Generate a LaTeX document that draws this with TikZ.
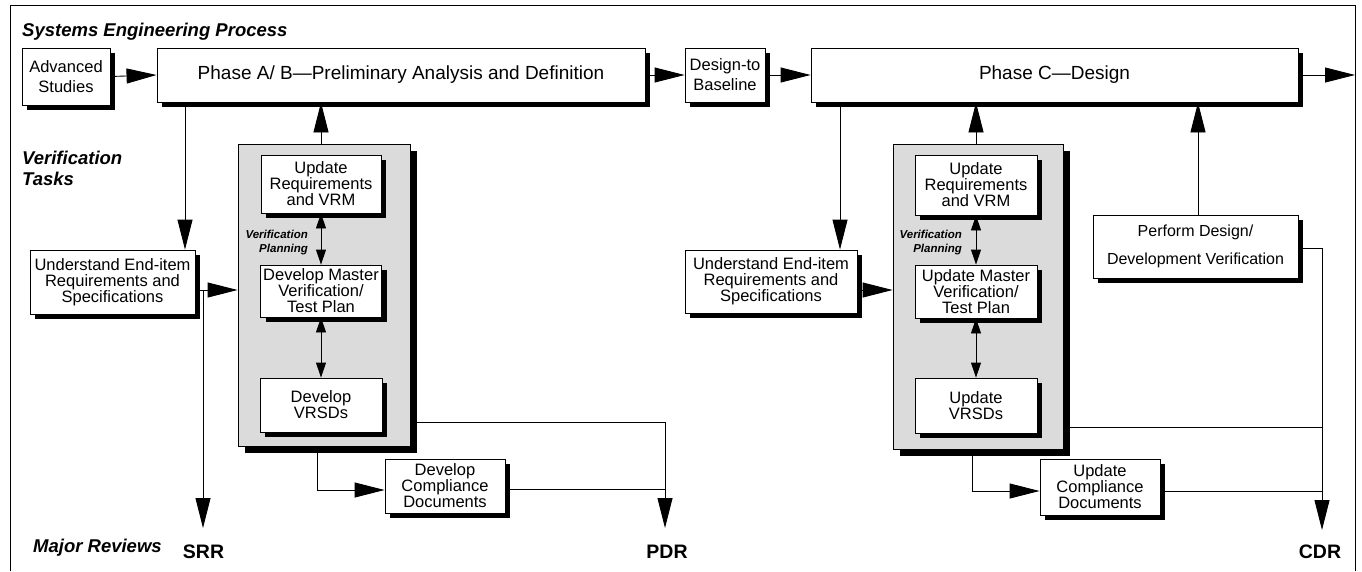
\documentclass[tikz,border=0pt]{standalone}
\usepackage{fontspec}
\setmainfont{Liberation Sans}
\usetikzlibrary{arrows.meta,shadows}
\begin{document}
\begin{tikzpicture}[x=1pt,y=-1pt,
  box/.style={draw, line width=0.9pt, fill=white, align=center, inner sep=0pt,
    font=\fontsize{16.5}{16}\selectfont,
    drop shadow={opacity=1, fill=black, shadow xshift=5pt, shadow yshift=-5pt}},
  wide/.style={font=\fontsize{16.5}{20}\selectfont},
  phase/.style={box, font=\fontsize{19}{20}\selectfont},
  grp/.style={draw, line width=0.9pt, fill=black!14, inner sep=0pt,
    drop shadow={opacity=1, fill=black, shadow xshift=7pt, shadow yshift=-7pt}},
  head/.style={font=\fontsize{18.5}{21}\selectfont\bfseries\itshape, align=left, inner sep=0pt},
  review/.style={font=\fontsize{19.5}{20}\selectfont\bfseries, inner sep=0pt},
  plan/.style={font=\fontsize{11.5}{14}\selectfont\bfseries\itshape, align=right, inner sep=0pt},
  line/.style={line width=0.9pt},
  arr/.style={line, -{Triangle[length=30pt,width=15pt]}},
  darr/.style={line, {Triangle[length=15pt,width=10pt]}-{Triangle[length=15pt,width=10pt]}}]
\useasboundingbox (0,0) rectangle (1362,571);
\fill[white] (0,0) rectangle (1362,571);
% frame
\draw[line] (10,571) -- (10,5) -- (1355,5) -- (1355,571);

% headings
\node[head, anchor=west] (tsep) at (22,32) {Systems Engineering Process};
\node[head, anchor=west] (tver) at (22,168) {Verification\\Tasks};
\node[head, anchor=west] (tmaj) at (33,548) {Major Reviews};

% top row
\node[box, wide, minimum width=88pt, minimum height=57pt] (adv) at (66,76.5) {Advanced\\Studies};
\node[phase, minimum width=488pt, minimum height=54pt] (phAB) at (401,75) {Phase A/ B—Preliminary Analysis and Definition};
\node[box, wide, minimum width=80pt, minimum height=54pt] (dtb) at (725,75) {Design-to\\Baseline};
\node[phase, minimum width=487pt, minimum height=54pt] (phC) at (1054.5,75) {Phase C—Design};

% left group
\node[grp, minimum width=172pt, minimum height=302pt] (grp1) at (324,295) {};
\node[box, minimum width=120pt, minimum height=58pt] (ureq1) at (321,184) {Update\\Requirements\\and VRM};
\node[box, minimum width=121pt, minimum height=52pt] (dmv1) at (321,291) {Develop Master\\Verification/\\Test Plan};
\node[box, minimum width=122pt, minimum height=54pt] (vrsd1) at (321,405) {Develop\\VRSDs};
\node[plan, anchor=east] (vp1) at (308,243) {Verification\\Planning};
\node[box, minimum width=165pt, minimum height=64pt] (und1) at (112.5,282) {Understand End-item\\Requirements and\\Specifications};
\node[box, minimum width=120pt, minimum height=54pt] (comp1) at (445,486) {Develop\\Compliance\\Documents};

% right group
\node[grp, minimum width=170pt, minimum height=305pt] (grp2) at (978,296.5) {};
\node[box, minimum width=122pt, minimum height=60pt] (ureq2) at (976,185) {Update\\Requirements\\and VRM};
\node[box, minimum width=122pt, minimum height=53pt] (umv2) at (976,291.5) {Update Master\\Verification/\\Test Plan};
\node[box, minimum width=122pt, minimum height=55pt] (vrsd2) at (976,405.5) {Update\\VRSDs};
\node[plan, anchor=east] (vp2) at (962,243) {Verification\\Planning};
\node[box, minimum width=172pt, minimum height=63pt] (und2) at (771,281.5) {Understand End-item\\Requirements and\\Specifications};
\node[box, minimum width=120pt, minimum height=56pt] (comp2) at (1100,487) {Update\\Compliance\\Documents};
\node[box, font=\fontsize{16}{28}\selectfont, minimum width=205pt, minimum height=63pt] (perf) at (1195.5,246.5) {Perform Design/\\Development Verification};

% reviews
\node[review] (srr) at (203.5,552) {SRR};
\node[review] (pdr) at (667,552) {PDR};
\node[review] (cdr) at (1320,552) {CDR};

% helper coordinates
\coordinate (xA) at (185,0);
\coordinate (yU) at (0,290);
\coordinate (srrT) at (203,290);
\coordinate (srrE) at (203,528);
\coordinate (pdrJ) at (665,422);
\coordinate (pdrC) at (665,489);
\coordinate (pdrE) at (665,528);
\coordinate (c1a) at (317,490);
\coordinate (xB) at (840,0);
\coordinate (outR) at (1355,75);
\coordinate (cdrT) at (1322,248);
\coordinate (cdrJ) at (1322,427);
\coordinate (cdrC) at (1322,491);
\coordinate (cdrE) at (1322,530);
\coordinate (c2a) at (972,491);
\coordinate (xP) at (1198,0);

% top row arrows
\draw[arr] (adv.east) -- (phAB.west);
\draw[arr] (phAB.east) -- (dtb.west);
\draw[arr] (dtb.east) -- (phC.west);
\draw[arr] (phC.east) -- (outR);

% left connectors
\draw[arr] (phAB.south -| xA) -- (und1.north -| xA);
\draw[arr] (und1.east |- yU) -- (grp1.west |- yU);
\draw[arr] (srrT) -- (srrE);
\draw[arr] (grp1.north -| ureq1) -- (phAB.south -| ureq1);
\draw[darr] (ureq1.south) -- (dmv1.north);
\draw[darr] (dmv1.south) -- (vrsd1.north);
\draw[line] (grp1.east |- pdrJ) -- (pdrJ);
\draw[arr] (pdrJ) -- (pdrE);
\draw[arr] (grp1.south -| c1a) -- (c1a) -- (comp1.west |- c1a);
\draw[line] (comp1.east |- pdrC) -- (pdrC);

% right connectors
\draw[arr] (phC.south -| xB) -- (und2.north -| xB);
\draw[arr] (und2.east |- yU) -- (grp2.west |- yU);
\draw[arr] (grp2.north -| ureq2) -- (phC.south -| ureq2);
\draw[darr] (ureq2.south) -- (umv2.north);
\draw[darr] (umv2.south) -- (vrsd2.north);
\draw[arr] (perf.north -| xP) -- (phC.south -| xP);
\draw[line] (perf.east |- cdrT) -- (cdrT);
\draw[arr] (cdrT) -- (cdrE);
\draw[line] (grp2.east |- cdrJ) -- (cdrJ);
\draw[arr] (grp2.south -| c2a) -- (c2a) -- (comp2.west |- c2a);
\draw[line] (comp2.east |- cdrC) -- (cdrC);
\end{tikzpicture}
\end{document}
